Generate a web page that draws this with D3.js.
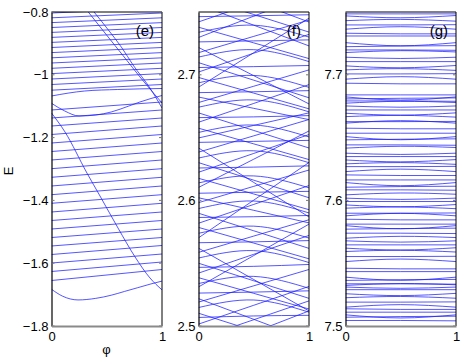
<!DOCTYPE html>
<html><head><meta charset="utf-8">
<script src="https://cdn.jsdelivr.net/npm/d3@7"></script>
<style>body{margin:0;background:#fff}svg{display:block}text{font-family:"Liberation Sans",Arial,sans-serif;fill:#000}</style>
</head><body><svg id="c" width="463" height="361"></svg>
<script>
// ---------- data ----------
const phiTicks = [0, 1];
const eTicks = [-0.8, -1, -1.2, -1.4, -1.6, -1.8];
const fTicks = [2.5, 2.6, 2.7];
const gTicks = [7.5, 7.6, 7.7];
const panelLabels = ["(e)", "(f)", "(g)"];
const eDomain = [-1.8, -0.8], fDomain = [2.5, 2.75], gDomain = [7.5, 7.75];

// panel (e): straight levels, value at phi=0 and phi=1
const eLeft = [-0.8032,-0.8185,-0.8338,-0.8494,-0.8650,-0.8809,-0.8968,-0.9131,-0.9293,-0.9459,-0.9624,-0.9793,-0.9962,-1.0134,-1.0309,-1.0490,-1.1121,-1.1376,-1.1631,-1.1901,-1.2172,-1.2443,-1.2713,-1.2990,-1.3264,-1.3541,-1.3818,-1.4092,-1.4369,-1.4640,-1.4911,-1.5182,-1.5452,-1.5723,-1.5994,-1.6264,-1.6551];
const eRight = [-0.7879,-0.8032,-0.8185,-0.8338,-0.8494,-0.8650,-0.8809,-0.8968,-0.9131,-0.9293,-0.9459,-0.9624,-0.9793,-0.9962,-1.0134,-1.0309,-1.0866,-1.1121,-1.1376,-1.1631,-1.1901,-1.2172,-1.2443,-1.2713,-1.2990,-1.3264,-1.3541,-1.3818,-1.4092,-1.4369,-1.4640,-1.4911,-1.5182,-1.5436,-1.5707,-1.5962,-1.6201];
// panel (e): curved levels
const eWavyPhi = [0, 0.3, 0.6, 1];
const eWavyE = [-1.0675, -1.0516, -1.0468, -1.0436];
const eBowlPhi = [0, 0.12, 0.25, 0.4, 0.54, 0.7, 0.8, 0.9, 1];
const eBowlE = [-1.0907, -1.1153, -1.1312, -1.128, -1.1185, -1.0994, -1.0866, -1.0755, -1.0659];
const eDiagAPhi = [0.333, 0.484, 0.665, 0.801, 1];
const eDiagAE = [-0.8, -0.8669, -0.9465, -1.0070, -1.0898];
const eDiagBPhi = [0.385, 0.529, 0.638, 0.738, 0.891, 1];
const eDiagBE = [-0.8, -0.8637, -0.9146, -0.9688, -1.0420, -1.1057];
const eSlopePhi = [0, 0.122, 0.321, 0.439, 0.602, 0.756, 0.891, 1];
const eSlopeE = [-1.1217, -1.182, -1.313, -1.386, -1.488, -1.580, -1.647, -1.685];
const eLowPhi = [0, 0.1, 0.24, 0.4, 0.54, 0.66, 0.78, 0.9, 1];
const eLowE = [-1.683, -1.705, -1.717, -1.712, -1.702, -1.690, -1.678, -1.666, -1.657];

// panel (f): values at phi = 0, 0.5, 1
const fLeft = [2.5015,2.5068,2.5102,2.5147,2.5190,2.5218,2.5262,2.5311,2.5338,2.5385,2.5421,2.5467,2.5500,2.5541,2.5586,2.5620,2.5663,2.5702,2.5738,2.5785,2.5818,2.5864,2.5898,2.5935,2.5982,2.6021,2.6057,2.6103,2.6139,2.6176,2.6224,2.6258,2.6301,2.6337,2.6384,2.6418,2.6462,2.6497,2.6541,2.6575,2.6622,2.6659,2.6697,2.6742,2.6779,2.6823,2.6858,2.6901,2.6936,2.6979,2.7022,2.7058,2.7097,2.7141,2.7176,2.7218,2.7262,2.7297,2.7338,2.7379,2.7421,2.7463,2.4900,2.4780,2.7620,2.7750,2.7560];
const fMid = [2.5165,2.5080,2.4962,2.5207,2.5320,2.5053,2.5270,2.5561,2.5395,2.5260,2.5571,2.5475,2.5360,2.5600,2.5716,2.5370,2.5670,2.6002,2.5795,2.5660,2.5968,2.5870,2.5758,2.5995,2.6112,2.5921,2.6065,2.6328,2.6195,2.6051,2.6374,2.6265,2.6161,2.6395,2.6514,2.6143,2.6470,2.6597,2.6600,2.6450,2.6772,2.6665,2.6557,2.6800,2.6909,2.6733,2.6865,2.7176,2.6995,2.6854,2.7172,2.7065,2.6957,2.7200,2.7306,2.6993,2.7270,2.7467,2.7395,2.7254,2.7571,2.7470,2.5050,2.4950,2.7480,2.7585,2.7395];
const fRight = [2.5315,2.5085,2.4822,2.5110,2.5450,2.4888,2.5280,2.5811,2.5300,2.5135,2.5721,2.5490,2.5220,2.5505,2.5846,2.5120,2.5680,2.6302,2.5700,2.5535,2.6118,2.5880,2.5618,2.5900,2.6242,2.5821,2.6072,2.6553,2.6100,2.5926,2.6524,2.6275,2.6021,2.6300,2.6644,2.5868,2.6478,2.6697,2.6505,2.6325,2.6922,2.6675,2.6417,2.6705,2.7039,2.6643,2.6874,2.7451,2.6900,2.6729,2.7322,2.7074,2.6817,2.7105,2.7436,2.6768,2.7278,2.7637,2.7300,2.7129,2.7721,2.7478,2.5200,2.5120,2.7340,2.7420,2.7230];

// panel (g): values at phi = 0, 0.5, 1
const gLeft = [7.7485,7.7469,7.7431,7.7397,7.7363,7.7331,7.7309,7.7256,7.7224,7.7198,7.7177,7.7140,7.7105,7.7071,7.7039,7.7007,7.6965,7.6933,7.6840,7.6824,7.6808,7.6792,7.6774,7.6752,7.6720,7.6694,7.6667,7.6627,7.6615,7.6575,7.6535,7.6508,7.6482,7.6442,7.6416,7.6376,7.6349,7.6322,7.6291,7.6269,7.6229,7.6203,7.6163,7.6142,7.6105,7.6084,7.6044,7.6018,7.5991,7.5964,7.5938,7.5898,7.5877,7.5850,7.5811,7.5799,7.5771,7.5739,7.5699,7.5678,7.5646,7.5620,7.5593,7.5553,7.5513,7.5460,7.5433,7.5389,7.5363,7.5336,7.5323,7.5310,7.5289,7.5257,7.5225,7.5190,7.5150,7.5137,7.5110,7.5089,7.5070,7.5044];
const gMid = [7.7485,7.7454,7.7441,7.7397,7.7383,7.7326,7.7309,7.7231,7.7229,7.7198,7.7192,7.7130,7.7105,7.7056,7.7049,7.7007,7.6985,7.6928,7.6840,7.6799,7.6813,7.6792,7.6789,7.6742,7.6720,7.6679,7.6677,7.6627,7.6635,7.6570,7.6535,7.6483,7.6487,7.6442,7.6431,7.6366,7.6349,7.6307,7.6301,7.6269,7.6249,7.6198,7.6163,7.6117,7.6110,7.6084,7.6059,7.6008,7.5991,7.5949,7.5948,7.5898,7.5897,7.5845,7.5811,7.5774,7.5776,7.5739,7.5714,7.5668,7.5646,7.5605,7.5603,7.5553,7.5533,7.5455,7.5433,7.5364,7.5368,7.5336,7.5338,7.5300,7.5289,7.5242,7.5235,7.5190,7.5170,7.5132,7.5110,7.5064,7.5075,7.5044];
const gRight = [7.7485,7.7472,7.7427,7.7399,7.7363,7.7326,7.7309,7.7256,7.7232,7.7195,7.7182,7.7140,7.7105,7.7074,7.7035,7.7009,7.6965,7.6928,7.6840,7.6824,7.6816,7.6789,7.6779,7.6752,7.6720,7.6697,7.6663,7.6629,7.6615,7.6570,7.6535,7.6508,7.6490,7.6439,7.6421,7.6376,7.6349,7.6325,7.6287,7.6271,7.6229,7.6198,7.6163,7.6142,7.6113,7.6081,7.6049,7.6018,7.5991,7.5967,7.5934,7.5900,7.5877,7.5845,7.5811,7.5799,7.5779,7.5736,7.5704,7.5678,7.5646,7.5623,7.5589,7.5555,7.5513,7.5455,7.5433,7.5389,7.5371,7.5333,7.5328,7.5310,7.5289,7.5260,7.5221,7.5192,7.5150,7.5132,7.5110,7.5089,7.5078,7.5041];

// ---------- drawing ----------
const svg = d3.select("#c");
const yTop = 12, yBottom = 326, pw = 110.5;
const lefts = [51.5, 198.5, 345.5];
const lineColor = "#1c1cff";
const phiMid = [0, 0.5, 1];
const FONT = '"Liberation Sans",Arial,sans-serif';

function panel(i, domain, ticks, fmt, series) {
  const x = d3.scaleLinear().domain([0, 1]).range([lefts[i], lefts[i] + pw]);
  const y = d3.scaleLinear().domain(domain).range([yBottom, yTop]);
  const id = "clip" + i;
  svg.append("clipPath").attr("id", id).append("rect")
    .attr("x", lefts[i]).attr("y", yTop).attr("width", pw).attr("height", yBottom - yTop);
  const g = svg.append("g").attr("clip-path", `url(#${id})`);
  series.forEach(s => {
    g.append("path").datum(s.pts)
      .attr("fill", "none").attr("stroke", lineColor).attr("stroke-width", 0.75)
      .attr("d", d3.line().x(d => x(d[0])).y(d => y(d[1])).curve(s.curve || d3.curveLinear));
  });
  svg.append("line").attr("x1", lefts[i]).attr("x2", lefts[i] + pw).attr("y1", yTop).attr("y2", yTop).attr("stroke", "#000").attr("stroke-width", 1);
  svg.append("line").attr("x1", lefts[i] + pw).attr("x2", lefts[i] + pw).attr("y1", yTop).attr("y2", yBottom).attr("stroke", "#000").attr("stroke-width", 1);
  const ya = d3.axisLeft(y).tickValues(ticks).tickSize(0).tickPadding(3).tickFormat(fmt);
  const ag = svg.append("g").attr("transform", `translate(${lefts[i]},0)`).call(ya);
  ag.select(".domain").attr("stroke", "#000").attr("stroke-width", 1.2);
  ag.selectAll("text").attr("font-size", 13).attr("font-family", FONT);
  ticks.forEach(t => {
    svg.append("line").attr("x1", lefts[i]).attr("x2", lefts[i] + 3).attr("y1", y(t)).attr("y2", y(t)).attr("stroke", "#777");
    svg.append("line").attr("x1", lefts[i] + pw - 3).attr("x2", lefts[i] + pw).attr("y1", y(t)).attr("y2", y(t)).attr("stroke", "#777");
  });
  const xa = d3.axisBottom(x).tickValues(phiTicks).tickSize(0).tickPadding(6).tickFormat(d3.format("d"));
  const bg = svg.append("g").attr("transform", `translate(0,${yBottom})`).call(xa);
  bg.select(".domain").attr("stroke", "#8a8a8a").attr("stroke-width", 2.2);
  bg.selectAll("text").attr("font-size", 13).attr("font-family", FONT);
  svg.append("text").attr("x", lefts[i] + pw - 8).attr("y", 35.5).attr("text-anchor", "end")
    .attr("font-size", 15).text(panelLabels[i]);
}

const minusFmt = d => d3.format("")(d).replace("-", "\u2212");

const eSeries = eLeft.map((v, k) => ({ pts: [[0, v], [1, eRight[k]]] }));
[[eWavyPhi, eWavyE], [eBowlPhi, eBowlE], [eDiagAPhi, eDiagAE], [eDiagBPhi, eDiagBE], [eSlopePhi, eSlopeE], [eLowPhi, eLowE]]
  .forEach(([p, e]) => eSeries.push({ pts: p.map((q, k) => [q, e[k]]), curve: d3.curveMonotoneX }));
const fSeries = fLeft.map((v, k) => ({ pts: [[phiMid[0], v], [phiMid[1], fMid[k]], [phiMid[2], fRight[k]]], curve: d3.curveNatural }));
const gSeries = gLeft.map((v, k) => ({ pts: [[phiMid[0], v], [phiMid[1], gMid[k]], [phiMid[2], gRight[k]]], curve: d3.curveNatural }));

panel(0, eDomain, eTicks, minusFmt, eSeries);
panel(1, fDomain, fTicks, d3.format(".1f"), fSeries);
panel(2, gDomain, gTicks, d3.format(".1f"), gSeries);

svg.append("text").attr("x", 106.5).attr("y", 354).attr("text-anchor", "middle").attr("font-size", 13).text("φ");
svg.append("text").attr("transform", "translate(12.5,171) rotate(-90)").attr("text-anchor", "middle").attr("font-size", 13).text("E");
</script></body></html>
